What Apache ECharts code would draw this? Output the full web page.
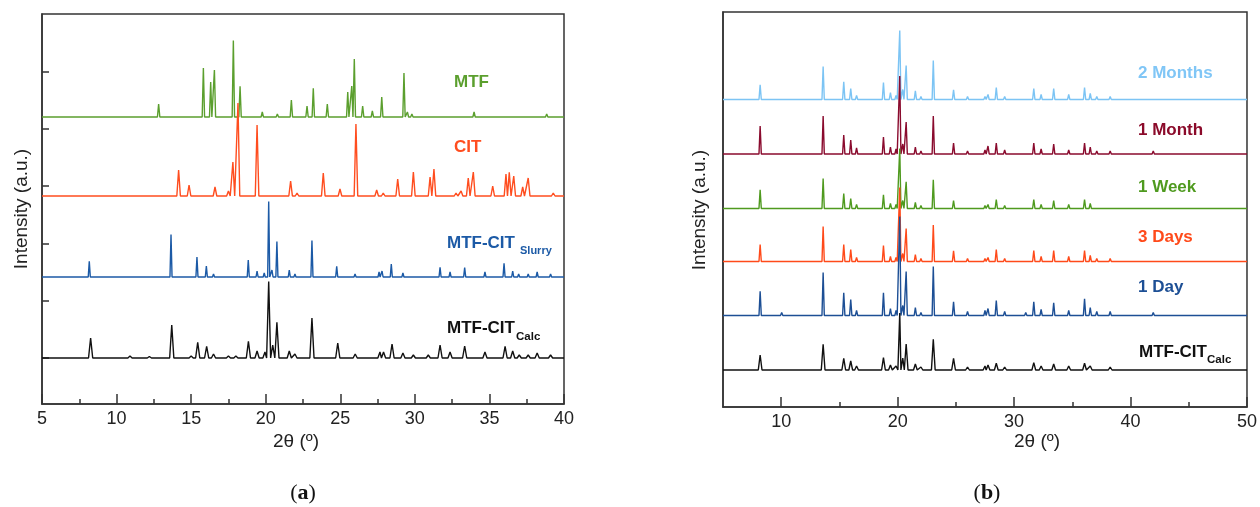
<!DOCTYPE html>
<html><head><meta charset="utf-8">
<script src="https://cdn.jsdelivr.net/npm/echarts@6/dist/echarts.min.js"></script>
<style>html,body{margin:0;padding:0;background:#fff}#c{width:1260px;height:507px}</style>
</head><body><div id="c"></div>
<script>
// ---------- Panel (a): peak lists [2θ, relative intensity (a.u.)] ----------
const mtfPeaks = [[9.9,2],[11.35,2],[12.82,13],[15.82,49],[16.31,35],[16.56,47],[17.83,76.6],[18.28,30.6],[19.77,5],[20.78,3],[21.72,17],[22.77,11],[23.19,28.6],[24.13,13],[25.5,25],[25.77,31],[25.94,58],[26.5,11],[27.15,6],[27.78,20],[29.27,44],[29.5,5],[29.8,3],[31.9,2],[32.9,2],[33.3,2],[33.97,5],[36.05,2],[36.9,2],[38.84,3]];
const citPeaks = [[14.16,26],[14.86,11],[16.6,9],[17.5,5],[17.8,34],[18.14,93],[19.42,71],[20.5,2],[21.67,15],[22.1,3],[22.9,2],[23.86,23],[24.98,7],[26.05,72],[27.44,6],[27.88,3],[28.85,17],[29.9,24],[31.02,19],[31.28,27],[32.76,3],[33.1,5],[33.58,18],[33.92,24],[35.22,10],[36.11,22],[36.33,23.6],[36.63,20],[37.23,9],[37.6,18],[39.28,3]];
const slurryPeaks = [[8.17,15.6],[10.9,2],[12.3,1],[13.65,42.6],[15.0,2],[15.39,20],[16.02,11],[16.5,3],[17.5,2],[18.0,2],[18.83,17],[19.42,6],[19.9,4],[20.2,75.6],[20.42,7],[20.75,35.6],[21.58,7],[21.96,3],[23.1,36.6],[24.76,10.6],[25.99,3],[27.6,5],[27.8,6],[28.42,13],[29.2,4],[29.9,2],[31.69,9.7],[32.36,5],[33.34,9.3],[34.7,5],[35.98,13.7],[36.56,6],[36.96,3],[37.6,3],[38.2,5],[39.1,3]];
const calcPeaksA = [[8.26,20],[10.9,2],[12.2,1.5],[13.7,33],[15.0,2],[15.44,15.7],[16.04,11.7],[16.5,4],[17.5,2],[18.0,2],[18.84,16.7],[19.42,7],[19.95,6],[20.2,76.6],[20.47,13],[20.75,35.7],[21.58,7],[21.96,4],[23.1,40],[24.83,15],[26.0,4],[27.66,6],[27.9,6],[28.47,14],[29.2,5],[29.9,3],[30.9,3],[31.69,13],[32.36,6],[33.34,12],[34.7,6],[36.05,11.7],[36.56,7],[37.0,3],[37.6,3],[38.2,5],[39.1,3]];
// stacking offsets (a.u.)
const offsetsA = {calc: 0, slurry: 81, cit: 162, mtf: 241};
const aXTicks = [5, 10, 15, 20, 25, 30, 35, 40];
const aYTicks = [0, 57.3, 114.6, 171.9, 229.2, 286.5];

// ---------- Panel (b): common reflections, heights per sample ----------
const posB = [8.19,10.04,12.3,13.6,15.37,15.97,16.47,17.3,17.9,18.78,19.38,19.86,20.18,20.44,20.73,21.52,22.0,23.06,24.8,26.0,27.5,27.76,28.47,29.19,29.84,31.0,31.69,32.32,33.4,34.69,36.05,36.54,37.1,37.7,38.25,39.1,40.0,40.67,41.38,41.95,42.95,44.2];
const months2 = [14.6,2,1,33,17.6,11,4,1,1,17,7,4,69,10,34,8.7,3,39,9.7,3,3,5,12,3,2,2,11,5,11,5,12,6,3,2,3,2,1,2,2,2,1,1];
const month1  = [28,2,1,38,19,14,6,2,2,17,7,5,78,10,32,7,3,38,11,3,4,8,11,4,2,2,11,5,10,4,11,7,3,2,3,2,1,2,2,3,1,1];
const week1   = [18.6,2,1,30,15,10,4,1,1,13.6,5,4,60,8,26.6,6,3,28.6,8,2,3,4,9,3,2,2,9,4,8,4,9,5,2,2,2,1,1,1,1,2,1,1];
const days3   = [17,2,1,35,17,12,4,1,1,16,5,4,74,8,33,7,3,36.6,10.7,3,3,4,12,3,2,2,11,5,11,5,11,6,3,2,3,2,1,2,2,2,1,1];
const day1    = [24.3,3,1,43,22.7,16,5,2,2,22.7,7,5,99,10,44,8,3,49,13.7,4,5,7,15,4,2,3,13.7,6,12.7,5,16.7,8,4,2,4,2,1,2,2,3,1,1];
const calcB   = [15,2,1,25.7,11.7,9,4,1.5,1.5,12.3,5,4,57,12,26,6,3,30.7,11.7,3,4,5,6.7,3,2,2,7.3,4,6,4,6.7,4,2,2,3,2,1,2,2,2,1,1];
const offsetsB = {calc: 0, day1: 54.5, days3: 108.5, week1: 161.5, month1: 216, months2: 270.5};
const bXLabels = [10, 20, 30, 40, 50];
const bXMinor = [15, 25, 35, 45];

function spikes(peaks, offset, w, xmin, xmax) {
  const pts = [[xmin, offset]];
  peaks.forEach(([x, h]) => { pts.push([x - w, offset], [x, offset + h], [x + w, offset]); });
  pts.push([xmax, offset]);
  pts.sort((p, q) => p[0] - q[0]);
  return pts;
}
function zip(pos, hs) { return pos.map((p, i) => [p, hs[i]]); }

const AX = '#333';
const FONT = '"Liberation Sans", Arial, sans-serif';
function line(name, data, color, xi, yi) {
  return {name, type: 'line', xAxisIndex: xi, yAxisIndex: yi, data, showSymbol: false, symbol: 'none',
    lineStyle: {color, width: 1.4}, silent: true, animation: false};
}

const series = [
  line('MTF', spikes(mtfPeaks, offsetsA.mtf, 0.08, 5, 40), '#5b9f2e', 0, 0),
  line('CIT', spikes(citPeaks, offsetsA.cit, 0.12, 5, 40), '#ff4d1f', 0, 0),
  line('Slurry', spikes(slurryPeaks, offsetsA.slurry, 0.07, 5, 40), '#1c5aa6', 0, 0),
  line('CalcA', spikes(calcPeaksA, offsetsA.calc, 0.14, 5, 40), '#111111', 0, 0),
  line('2 Months', spikes(zip(posB, months2), offsetsB.months2, 0.1, 5, 50), '#7cc4f4', 1, 1),
  line('1 Month', spikes(zip(posB, month1), offsetsB.month1, 0.1, 5, 50), '#8a0b2e', 1, 1),
  line('1 Week', spikes(zip(posB, week1), offsetsB.week1, 0.1, 5, 50), '#4f9a1f', 1, 1),
  line('3 Days', spikes(zip(posB, days3), offsetsB.days3, 0.1, 5, 50), '#ff4a1a', 1, 1),
  line('1 Day', spikes(zip(posB, day1), offsetsB.day1, 0.1, 5, 50), '#1d4f95', 1, 1),
  line('CalcB', spikes(zip(posB, calcB), offsetsB.calc, 0.16, 5, 50), '#111111', 1, 1)
];

function txt(text, x, y, size, color, bold, extra) {
  return Object.assign({type: 'text', x, y, silent: true,
    style: {text, fill: color, font: (bold ? 'bold ' : '') + size + 'px ' + FONT,
      align: 'left', verticalAlign: 'middle', textAlign: 'left', textVerticalAlign: 'middle'}}, extra || {});
}
function ctxt(text, x, y, size, color, rot, fam) {
  return {type: 'text', x, y, rotation: rot || 0, silent: true,
    style: {text, fill: color, font: size + 'px ' + (fam || FONT),
      align: 'center', verticalAlign: 'middle', textAlign: 'center', textVerticalAlign: 'middle'}};
}

const option = {
  backgroundColor: '#fff',
  animation: false,
  grid: [
    {left: 42, top: 14, width: 522, height: 390, show: true, borderColor: AX, borderWidth: 1.5},
    {left: 723, top: 12, width: 526, height: 395, show: true, borderColor: AX, borderWidth: 1.5}
  ],
  xAxis: [
    {gridIndex: 0, type: 'value', min: 5, max: 40, interval: 5,
      axisLine: {show: true, onZero: false, lineStyle: {color: AX, width: 1.5}},
      axisTick: {show: true, inside: true, length: 10, lineStyle: {color: AX, width: 1.5}},
      minorTick: {show: true, splitNumber: 2, length: 5, lineStyle: {color: AX, width: 1.5}},
      splitLine: {show: false}, minorSplitLine: {show: false},
      axisLabel: {color: '#222', fontSize: 18, fontFamily: FONT, margin: 6}},
    {gridIndex: 1, type: 'value', min: 5, max: 50,
      axisLine: {show: true, onZero: false, lineStyle: {color: AX, width: 1.5}},
      axisTick: {show: true, inside: true, length: 10, customValues: bXLabels, lineStyle: {color: AX, width: 1.5}},
      splitLine: {show: false},
      axisLabel: {color: '#222', fontSize: 18, fontFamily: FONT, margin: 6, customValues: bXLabels}},
    {gridIndex: 1, type: 'value', min: 5, max: 50, position: 'bottom',
      axisLine: {show: false, onZero: false},
      axisTick: {show: true, inside: true, length: 5, customValues: bXMinor, lineStyle: {color: AX, width: 1.5}},
      splitLine: {show: false}, axisLabel: {show: false}}
  ],
  yAxis: [
    {gridIndex: 0, type: 'value', min: -46, max: 344,
      axisLine: {show: true, onZero: false, lineStyle: {color: AX, width: 1.5}},
      axisTick: {show: true, inside: true, length: 7, customValues: aYTicks, lineStyle: {color: AX, width: 1.5}},
      axisLabel: {show: false}, splitLine: {show: false}},
    {gridIndex: 1, type: 'value', min: -37, max: 358,
      axisLine: {show: true, onZero: false, lineStyle: {color: AX, width: 1.5}},
      axisTick: {show: false}, axisLabel: {show: false}, splitLine: {show: false}}
  ],
  series,
  graphic: [
    txt('MTF', 454, 82, 17, '#5b9f2e', true),
    txt('CIT', 454, 147, 17, '#ff4d1f', true),
    txt('MTF-CIT', 447, 243, 17, '#1c5aa6', true),
    txt('Slurry', 520, 251, 11, '#1c5aa6', true),
    txt('MTF-CIT', 447, 328, 17, '#111', true),
    txt('Calc', 516, 337, 11.5, '#111', true),
    txt('2 Months', 1138, 73, 17, '#80c6f6', true),
    txt('1 Month', 1138, 130, 17, '#8b0a2a', true),
    txt('1 Week', 1138, 187, 17, '#4f9a1f', true),
    txt('3 Days', 1138, 237, 17, '#ff4a1a', true),
    txt('1 Day', 1138, 287, 17, '#1d4f95', true),
    txt('MTF-CIT', 1139, 352, 17, '#111', true),
    txt('Calc', 1207, 360, 11.5, '#111', true),
    ctxt('Intensity (a.u.)', 22, 209, 19, '#222', Math.PI / 2),
    ctxt('Intensity (a.u.)', 700, 210, 19, '#222', Math.PI / 2),
    ctxt('2θ (º)', 296, 442, 19, '#222'),
    ctxt('2θ (º)', 1037, 442, 19, '#222'),
    {type: 'text', x: 303, y: 493, silent: true,
      style: {text: '({b|a})', fill: '#111', font: '22px "Liberation Serif", serif', align: 'center', verticalAlign: 'middle',
        textAlign: 'center', textVerticalAlign: 'middle',
        rich: {b: {font: 'bold 22px "Liberation Serif", serif', fill: '#111'}}}},
    {type: 'text', x: 987, y: 493, silent: true,
      style: {text: '({b|b})', fill: '#111', font: '22px "Liberation Serif", serif', align: 'center', verticalAlign: 'middle',
        textAlign: 'center', textVerticalAlign: 'middle',
        rich: {b: {font: 'bold 22px "Liberation Serif", serif', fill: '#111'}}}}
  ]
};
const chart = echarts.init(document.getElementById('c'), null, {renderer: 'canvas'});
chart.setOption(option);
</script></body></html>
